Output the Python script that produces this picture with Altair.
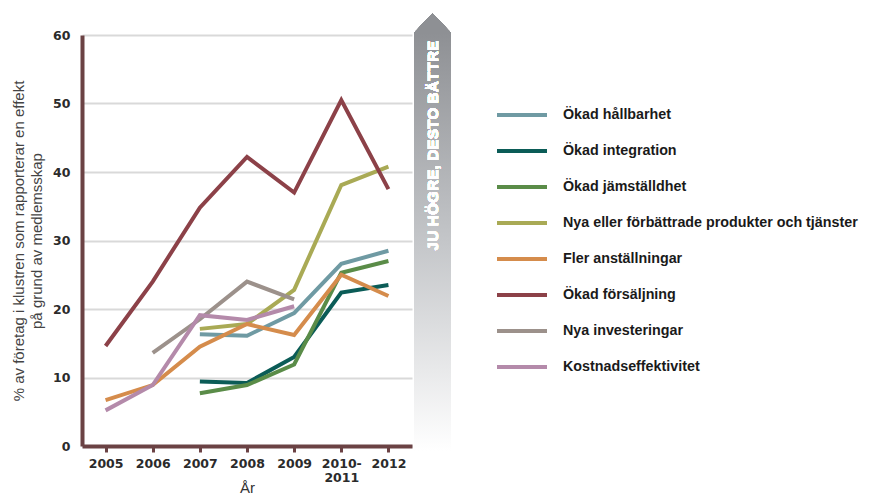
import altair as alt
import pandas as pd

years = ["2005", "2006", "2007", "2008", "2009", "2010-2011", "2012"]

series_names = [
    "Ökad hållbarhet",
    "Ökad integration",
    "Ökad jämställdhet",
    "Nya eller förbättrade produkter och tjänster",
    "Fler anställningar",
    "Ökad försäljning",
    "Nya investeringar",
    "Kostnadseffektivitet",
]
series_colors = ["#6f9aa3", "#0b5c57", "#5a8c48", "#a9aa55",
                 "#d58c4c", "#8c4148", "#9c918b", "#b48aaa"]

okad_hallbarhet = [None, None, 16.3, 16.1, 19.4, 26.6, 28.5]
okad_integration = [None, None, 9.4, 9.2, 13.0, 22.4, 23.5]
okad_jamstalldhet = [None, None, 7.7, 8.9, 11.9, 25.3, 27.0]
nya_produkter = [None, None, 17.1, 17.8, 22.8, 38.1, 40.8]
fler_anstallningar = [6.7, 8.9, 14.5, 17.8, 16.2, 25.0, 21.9]
okad_forsaljning = [14.6, 24.0, 34.8, 42.2, 37.0, 50.5, 37.5]
nya_investeringar = [None, 13.6, 18.5, 24.0, 21.4, None, None]
kostnadseffektivitet = [5.2, 8.9, 19.1, 18.4, 20.4, None, None]

all_series = [okad_hallbarhet, okad_integration, okad_jamstalldhet, nya_produkter,
              fler_anstallningar, okad_forsaljning, nya_investeringar, kostnadseffektivitet]

y_ticks = [0, 10, 20, 30, 40, 50, 60]

rows = []
for name, vals in zip(series_names, all_series):
    for yr, v in zip(years, vals):
        if v is not None:
            rows.append({"serie": name, "ar": yr, "varde": v})
df = pd.DataFrame(rows)

W, H = 330, 411
brown = "#6b4244"

lines = alt.Chart(df).mark_line(strokeWidth=4, strokeCap="butt", strokeJoin="miter").encode(
    x=alt.X("ar:N", sort=years, scale=alt.Scale(paddingInner=0, paddingOuter=0),
            axis=alt.Axis(title="År", labelExpr="datum.label == '2010-2011' ? ['2010-', '2011'] : datum.label",
                          bandPosition=0, ticks=True, tickSize=6, tickWidth=3, tickColor=brown,
                          domainColor=brown, domainWidth=4, labelAngle=0,
                          labelFont="DejaVu Sans", labelFontWeight="bold", labelFontSize=12.5,
                          labelColor="#2b2b2b", labelPadding=5, labelLineHeight=14.5,
                          titleFont="Liberation Sans", titleFontWeight="normal", titleFontSize=15,
                          titleColor="#333333", titlePadding=-4, grid=False)),
    y=alt.Y("varde:Q", scale=alt.Scale(domain=[0, 60], nice=False),
            axis=alt.Axis(values=y_ticks, title=["% av företag i klustren som rapporterar en effekt",
                                                 "på grund av medlemsskap"],
                          ticks=False, domainColor=brown, domainWidth=4,
                          grid=True, gridColor="#d9d9d9", gridWidth=2,
                          labelFont="DejaVu Sans", labelFontWeight="bold", labelFontSize=12.5,
                          labelColor="#2b2b2b", labelPadding=12,
                          titleFont="Liberation Sans", titleFontWeight="normal", titleFontSize=15,
                          titleColor="#444444", titlePadding=8, titleLineHeight=18)),
    color=alt.Color("serie:N", sort=series_names,
                    scale=alt.Scale(domain=series_names, range=series_colors),
                    legend=alt.Legend(title=None, orient="none", legendX=413, legendY=53,
                                      symbolType="stroke", symbolSize=2500, symbolStrokeWidth=4,
                                      rowPadding=1.0, labelOffset=14,
                                      labelFont="Liberation Sans", labelFontWeight="bold",
                                      labelFontSize=14.3, labelColor="#1a1a1a", labelLimit=400)),
)

arrow_body = alt.Chart(df).mark_rect(
    fill=alt.Gradient(gradient="linear", x1=0, y1=0, x2=0, y2=1,
                      stops=[alt.GradientStop(color="#8e9094", offset=0),
                             alt.GradientStop(color="#c4c6c9", offset=0.5),
                             alt.GradientStop(color="#ffffff", offset=1)]),
    clip=False,
).encode(x=alt.value(332), x2=alt.value(369), y=alt.value(-2), y2=alt.value(416))

arrow_tip = alt.Chart(df).mark_point(
    shape="M0,-1L1,0.05L-1,0.05Z", size=1369, filled=True, fill="#8e9094",
    opacity=1, strokeWidth=0, clip=False,
).encode(x=alt.value(350.5), y=alt.value(-3))

arrow_text = alt.Chart(df).mark_text(
    text="JU HÖGRE, DESTO BÄTTRE", angle=270, color="white", font="Liberation Sans",
    fontWeight="bold", fontSize=15.5, align="center", baseline="middle",
).encode(x=alt.value(350.5), y=alt.value(110.5))

chart = alt.layer(arrow_body, arrow_tip, arrow_text, lines).properties(
    width=W, height=H,
    padding={"left": 74, "top": 27, "right": 455, "bottom": 49},
    autosize=alt.AutoSizeParams(type="none"),
).configure_view(stroke=None)

chart.save("out.html", embed_options={"renderer": "svg", "actions": False})
